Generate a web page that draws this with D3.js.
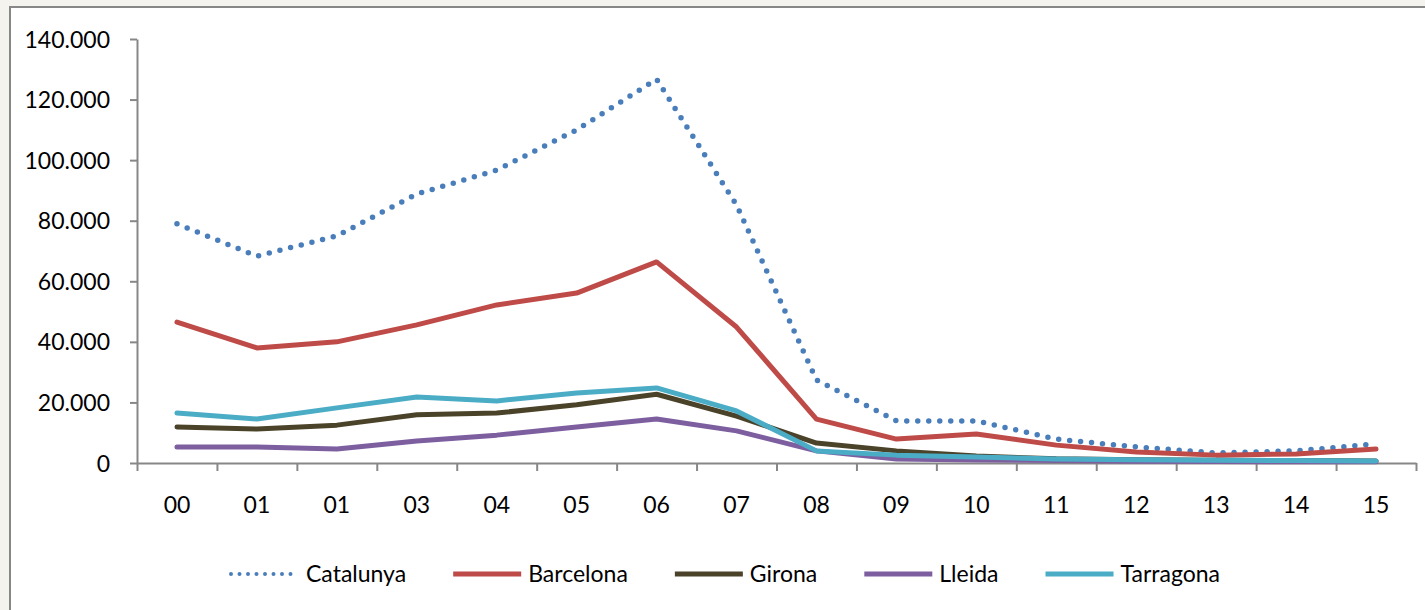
<!DOCTYPE html>
<html>
<head>
<meta charset="utf-8">
<script src="https://cdn.jsdelivr.net/npm/d3@7"></script>
<style>
  html, body { margin: 0; padding: 0; background: #f4f3ee; }
  svg { display: block; }
  text { font-family: Lato, "Noto Sans", sans-serif; fill: #000; }
</style>
</head>
<body>
<svg id="chart" width="1425" height="610"></svg>
<script>
const categories = ["00","01","01","03","04","05","06","07","08","09","10","11","12","13","14","15"];
const yTicks = [0, 20000, 40000, 60000, 80000, 100000, 120000, 140000];
const seriesNames = ["Catalunya","Barcelona","Girona","Lleida","Tarragona"];
const catalunya = [79000, 68300, 75000, 88800, 96700, 110000, 126700, 85200, 27400, 13900, 13900, 7900, 5300, 3300, 4000, 6300];
const barcelona = [46500, 38000, 40000, 45600, 52200, 56100, 66400, 44900, 14500, 7900, 9600, 5900, 3600, 2600, 3000, 4600];
const girona    = [11900, 11200, 12500, 15900, 16500, 19200, 22700, 15500, 6600, 4000, 2300, 1400, 1100, 900, 800, 700];
const lleida    = [5300, 5300, 4600, 7300, 9200, 11900, 14500, 10600, 4000, 1300, 1000, 800, 600, 500, 400, 400];
const tarragona = [16500, 14500, 18200, 21800, 20500, 23100, 24800, 17200, 4000, 2600, 2000, 1300, 1100, 900, 800, 700];
const seriesValues = [catalunya, barcelona, girona, lleida, tarragona];
const colors = ["#4a7ebb", "#be4b48", "#4b4329", "#7d5fa0", "#4bacc6"];

(function () {
const svg = d3.select("#chart");
svg.append("rect").attr("x", 10).attr("y", 7).attr("width", 1430).attr("height", 620)
  .attr("fill", "#fff").attr("stroke", "#878787").attr("stroke-width", 2);

const mLeft = 137, mRight = 1416, mTop = 39, mBottom = 463;
const x = d3.scaleLinear().domain([0, categories.length]).range([mLeft, mRight]);
const y = d3.scaleLinear().domain([0, 140000]).range([mBottom, mTop]);
const loc = d3.formatLocale({decimal: ",", thousands: ".", grouping: [3], currency: ["", ""]});
const fmt = loc.format(",");

const yAxis = svg.append("g").attr("transform", `translate(${mLeft},0)`)
  .call(d3.axisLeft(y).tickValues(yTicks).tickFormat(fmt).tickSizeInner(7).tickSizeOuter(0).tickPadding(20));
yAxis.select(".domain").attr("stroke", "#878787").attr("stroke-width", 2);
yAxis.selectAll(".tick line").attr("stroke", "#878787").attr("stroke-width", 2);
yAxis.selectAll("text").style("font-size", "23px").style("font-family", "Lato").attr("fill", "#000").attr("dy", "0.35em");

const xAxis = svg.append("g").attr("transform", `translate(0,${mBottom})`)
  .call(d3.axisBottom(x).tickValues(d3.range(categories.length + 1)).tickFormat("").tickSizeInner(8).tickSizeOuter(0));
xAxis.select(".domain").attr("stroke", "#878787").attr("stroke-width", 2);
xAxis.selectAll(".tick line").attr("stroke", "#878787").attr("stroke-width", 2);
svg.append("g").selectAll("text").data(categories).join("text")
  .attr("x", (d, i) => x(i + 0.5)).attr("y", 513)
  .attr("text-anchor", "middle").style("font-size", "23px").text(d => d);

const line = d3.line().x((d, i) => x(i + 0.5)).y(d => y(d));
seriesValues.forEach((vals, k) => {
  const p = svg.append("path").datum(vals).attr("d", line)
    .attr("fill", "none").attr("stroke", colors[k])
    .attr("stroke-linejoin", "round");
  if (k === 0) {
    p.attr("stroke-width", 5.5).attr("stroke-dasharray", "0 11").attr("stroke-linecap", "round");
  } else {
    p.attr("stroke-width", 5).attr("stroke-linecap", "round");
  }
});

const lg = svg.append("g");
let lx = 229;
const ly = 574;
seriesNames.forEach((name, k) => {
  const g = lg.append("g");
  const ln = g.append("line").attr("x1", lx + 2).attr("x2", lx + 70).attr("y1", ly).attr("y2", ly)
    .attr("stroke", colors[k]).attr("stroke-width", k === 0 ? 4 : 5);
  if (k === 0) ln.attr("stroke-dasharray", "0 8.5").attr("stroke-linecap", "round");
  const t = g.append("text").attr("x", lx + 77).attr("y", ly).attr("dy", "0.35em")
    .style("font-size", "23px").text(name);
  const w = t.node().getComputedTextLength();
  lx = lx + 77 + w + 45;
});
})();
</script>
</body>
</html>
